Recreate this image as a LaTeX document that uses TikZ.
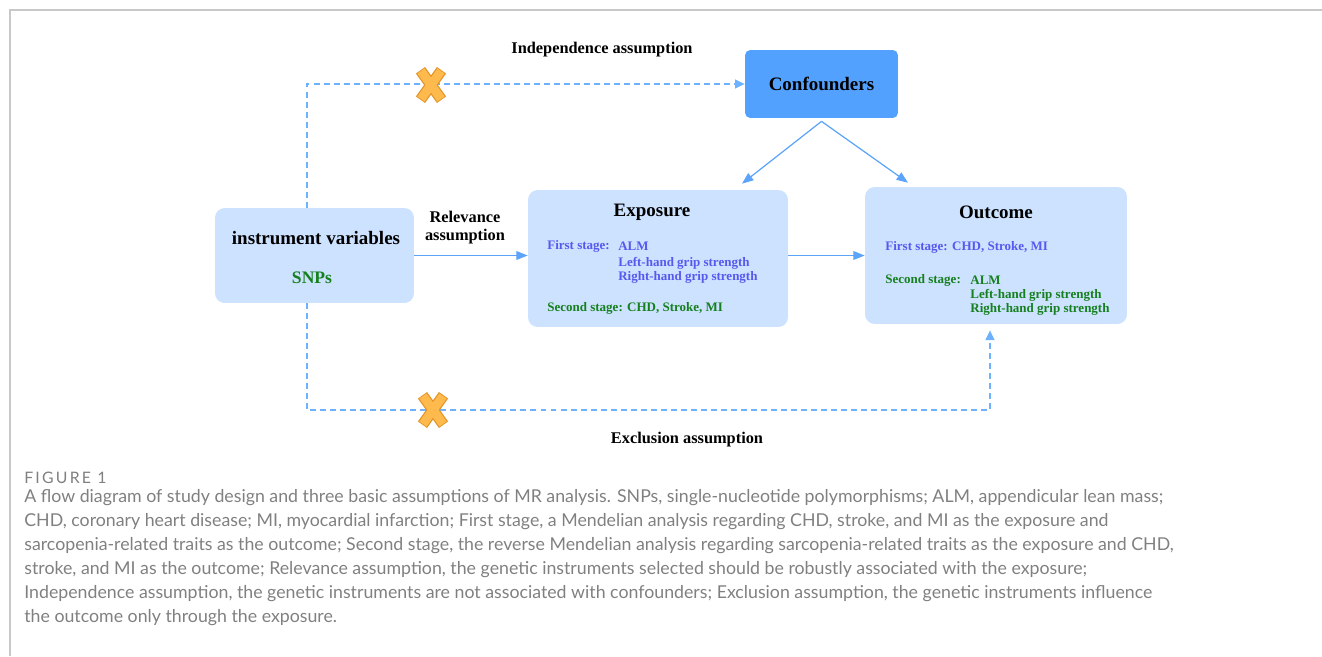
\documentclass[tikz,border=0pt]{standalone}
\usepackage{fontspec}
\setmainfont{Liberation Serif}
\newfontfamily\capfont{Lato}
\newfontfamily\figfont[LetterSpace=14]{Lato}
\usetikzlibrary{arrows.meta}
\definecolor{boxblue}{RGB}{204,226,255}
\definecolor{confblue}{RGB}{82,161,255}
\definecolor{linkblue}{RGB}{92,164,250}
\definecolor{dashblue}{RGB}{110,178,255}
\definecolor{stageblue}{RGB}{88,88,238}
\definecolor{stagegreen}{RGB}{22,128,30}
\definecolor{crossfill}{RGB}{255,186,77}
\definecolor{crossedge}{RGB}{226,148,40}
\definecolor{captiongray}{RGB}{128,128,128}
\definecolor{framegray}{RGB}{200,200,200}
\newcommand{\nomark}[1]{%
  \draw[crossedge,line width=6.4pt,shorten <=-0.5pt,shorten >=-0.5pt] ([shift={(-10,-14)}]#1) -- ([shift={(10,14)}]#1);
  \draw[crossedge,line width=6.4pt,shorten <=-0.5pt,shorten >=-0.5pt] ([shift={(10,-14)}]#1) -- ([shift={(-10,14)}]#1);
  \draw[crossfill,line width=5pt] ([shift={(-10,-14)}]#1) -- ([shift={(10,14)}]#1);
  \draw[crossfill,line width=5pt] ([shift={(10,-14)}]#1) -- ([shift={(-10,14)}]#1);
}

\begin{document}
\begin{tikzpicture}[x=0.02cm,y=-0.02cm]
            \tikzstyle{lightbox}=[fill=boxblue,rounded corners=5.5pt,inner sep=0pt]
            \tikzstyle{confbox}=[fill=confblue,rounded corners=3pt,inner sep=0pt,font=\fontsize{10.8}{13}\bfseries\selectfont]
            \tikzstyle{title}=[font=\fontsize{10.8}{13}\bfseries\selectfont]
            \tikzstyle{stage}=[font=\fontsize{7.4}{9}\bfseries\selectfont,anchor=west,inner sep=0pt]
            \tikzstyle{assume}=[font=\fontsize{9.3}{10.2}\bfseries\selectfont,align=center]
            \tikzstyle{link}=[linkblue,line width=0.7pt,-{Triangle[length=6.5pt,width=5pt]}]
            \tikzstyle{dashlink}=[dashblue,line width=1.1pt,dash pattern=on 3.4pt off 2.3pt,-{Triangle[length=5.5pt,width=5pt]}]
            \tikzstyle{caption}=[font=\capfont\fontsize{10.1}{12}\selectfont,captiongray,anchor=west,inner sep=0pt]

            \useasboundingbox (0,0) rectangle (1322,656);

            % frame
            \draw[framegray,line width=1.1pt] (10,656) -- (10,10) -- (1322,10);

            % boxes
            \node[lightbox,minimum width=3.98cm,minimum height=1.9cm] (instr) at (314.5,255.5) {};
            \node[lightbox,minimum width=5.2cm,minimum height=2.74cm] (expo) at (658,258.5) {};
            \node[lightbox,minimum width=5.24cm,minimum height=2.74cm] (outc) at (996,255.5) {};
            \node[confbox,minimum width=3.06cm,minimum height=1.36cm] (conf) at (821.5,84) {Confounders};

            % instrument text
            \node[title] (instrtitle) at (316,238) {instrument variables};
            \node[title,stagegreen,font=\fontsize{10}{12}\bfseries\selectfont] (snps) at (312,278) {SNPs};

            % exposure text
            \node[title] (expotitle) at (652,212) {Exposure};
            \node[stage,stageblue] (expofirst) at (547,246) {First stage:};
            \node[stage,stageblue] (expoalm) at (618,246) {ALM};
            \node[stage,stageblue] (expoleft) at (618,263) {Left-hand grip strength};
            \node[stage,stageblue] (exporight) at (618,277) {Right-hand grip strength};
            \node[stage,stagegreen] (exposecond) at (547,308) {Second stage: CHD, Stroke, MI};

            % outcome text
            \node[title] (outctitle) at (996,212) {Outcome};
            \node[stage,stageblue] (outcfirst) at (885,247) {First stage: CHD, Stroke, MI};
            \node[stage,stagegreen] (outcsecond) at (885,280) {Second stage:};
            \node[stage,stagegreen] (outcalm) at (970,280) {ALM};
            \node[stage,stagegreen] (outcleft) at (970,295) {Left-hand grip strength};
            \node[stage,stagegreen] (outcright) at (970,309) {Right-hand grip strength};

            % assumption labels
            \node[assume] (indep) at (602,50) {Independence assumption};
            \node[assume] (relev) at (465,228) {Relevance\\assumption};
            \node[assume] (exclu) at (687,440) {Exclusion assumption};

            % solid links
            \draw[link] (instr.east) -- (instr.east -| expo.west);
            \draw[link] (instr.east -| expo.east) -- (instr.east -| outc.west);
            \draw[link] ([shift={(0,3)}]conf.south) -- ([shift={(84,-6)}]expo.north);
            \draw[link] ([shift={(0,3)}]conf.south) -- ([shift={(-88,-4)}]outc.north);

            % dashed links
            \draw[dashlink] ([shift={(-7.5,0)}]instr.north) |- (conf.west);
            \draw[dashlink] ([shift={(-7.5,0)}]instr.south) -- ++(0,107) -| ([shift={(-6,6)}]outc.south);

            % crosses
            \coordinate (indepcross) at (431,85);
            \coordinate (exclucross) at (433,410);
            \nomark{indepcross}
            \nomark{exclucross}

            % caption
            \node[caption,font=\figfont\fontsize{9}{11}\selectfont] (figlabel) at (24,478) {FIGURE 1};
            \node[caption] (cap1) at (24,498) {A flow diagram of study design and three basic assumptions of MR analysis. SNPs, single-nucleotide polymorphisms; ALM, appendicular lean mass;};
            \node[caption] (cap2) at (24,522) {CHD, coronary heart disease; MI, myocardial infarction; First stage, a Mendelian analysis regarding CHD, stroke, and MI as the exposure and};
            \node[caption] (cap3) at (24,546) {sarcopenia-related traits as the outcome; Second stage, the reverse Mendelian analysis regarding sarcopenia-related traits as the exposure and CHD,};
            \node[caption] (cap4) at (24,570) {stroke, and MI as the outcome; Relevance assumption, the genetic instruments selected should be robustly associated with the exposure;};
            \node[caption] (cap5) at (24,594) {Independence assumption, the genetic instruments are not associated with confounders; Exclusion assumption, the genetic instruments influence};
            \node[caption] (cap6) at (24,618) {the outcome only through the exposure.};
        \end{tikzpicture}
\end{document}
